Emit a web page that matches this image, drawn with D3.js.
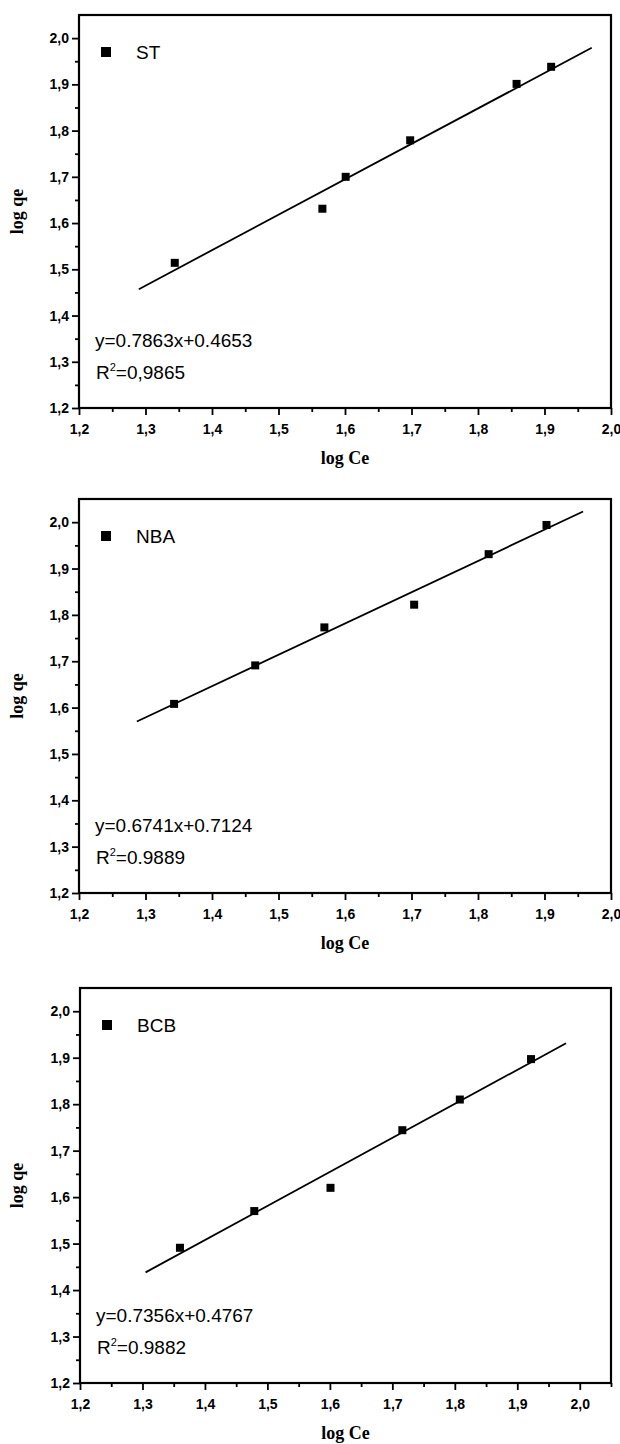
<!DOCTYPE html>
<html>
<head>
<meta charset="utf-8">
<script src="https://cdn.jsdelivr.net/npm/d3@7"></script>
<style>
    body { margin: 0; background: #fff; }
    svg text { fill: #000; }
    .tick text { font: bold 14px "Liberation Sans", Arial, sans-serif; }
    .legend, .eq { font: 19px "Liberation Sans", Arial, sans-serif; }
    .title { font: bold 18px "Liberation Serif", "Times New Roman", serif; }
</style>
</head>
<body>
<div id="chart"></div>
<script>
// series names
var names = ["ST", "NBA", "BCB"];

// ST
var xST = [1.344, 1.566, 1.601, 1.698, 1.858, 1.910];
var yST = [1.514, 1.631, 1.700, 1.779, 1.901, 1.938];
var fitXST = [1.29, 1.971];
var fitYST = [1.457, 1.979];

// NBA
var xNBA = [1.343, 1.465, 1.569, 1.704, 1.816, 1.903];
var yNBA = [1.608, 1.691, 1.773, 1.822, 1.931, 1.994];
var fitXNBA = [1.287, 1.958];
var fitYNBA = [1.570, 2.023];

// BCB
var xBCB = [1.360, 1.479, 1.601, 1.716, 1.808, 1.922];
var yBCB = [1.491, 1.570, 1.620, 1.744, 1.810, 1.897];
var fitXBCB = [1.305, 1.978];
var fitYBCB = [1.438, 1.931];

// equations printed on each panel
var equations = ["y=0.7863x+0.4653", "y=0.6741x+0.7124", "y=0.7356x+0.4767"];
var r2 = ["=0,9865", "=0.9889", "=0.9882"];

// ticks
var xTicks = [1.2, 1.3, 1.4, 1.5, 1.6, 1.7, 1.8, 1.9, 2.0];
var yTicks = [1.2, 1.3, 1.4, 1.5, 1.6, 1.7, 1.8, 1.9, 2.0];
var xMax = [2.0, 2.0, 2.05];

var width = 620,
    height = 1444;

// panel frames
var panels = [
    {left: 79, right: 611, top: 15, bottom: 408},
    {left: 79, right: 611, top: 499, bottom: 893},
    {left: 80, right: 611, top: 988, bottom: 1383}
];

var xs = [xST, xNBA, xBCB];
var ys = [yST, yNBA, yBCB];
var fitXs = [fitXST, fitXNBA, fitXBCB];
var fitYs = [fitYST, fitYNBA, fitYBCB];

var locale = d3.formatLocale({decimal: ",", thousands: ".", grouping: [3], currency: ["", ""]});
var fmt = locale.format(".1f");

var svg = d3.select("#chart")
    .append("svg")
    .attr("width", width)
    .attr("height", height);

panels.forEach(function (p, i) {
    var x = d3.scaleLinear().domain([1.2, xMax[i]]).range([p.left, p.right]);
    var y = d3.scaleLinear().domain([1.2, 2.05]).range([p.bottom, p.top]);

    var xMinor = d3.range(1.25, xMax[i] + 0.001, 0.1);
    var yMinor = d3.range(1.25, 2.0, 0.1);

    var g = svg.append("g");

    // minor ticks
    g.append("g")
        .attr("transform", "translate(0," + p.bottom + ")")
        .call(d3.axisBottom(x).tickValues(xMinor).tickSize(4).tickFormat(""));
    g.append("g")
        .attr("transform", "translate(" + p.left + ",0)")
        .call(d3.axisLeft(y).tickValues(yMinor).tickSize(4).tickFormat(""));

    // major ticks
    g.append("g")
        .attr("transform", "translate(0," + p.bottom + ")")
        .call(d3.axisBottom(x).tickValues(xTicks).tickSize(7).tickPadding(9).tickFormat(fmt));
    g.append("g")
        .attr("transform", "translate(" + p.left + ",0)")
        .call(d3.axisLeft(y).tickValues(yTicks).tickSize(7).tickPadding(3).tickFormat(fmt));

    g.selectAll(".domain").remove();
    g.selectAll(".tick line").attr("stroke", "#000").attr("stroke-width", 1.8);

    // frame
    g.append("rect")
        .attr("x", p.left)
        .attr("y", p.top)
        .attr("width", p.right - p.left)
        .attr("height", p.bottom - p.top)
        .attr("fill", "none")
        .attr("stroke", "#000")
        .attr("stroke-width", 2.2);

    // fit line
    g.append("line")
        .attr("x1", x(fitXs[i][0]))
        .attr("y1", y(fitYs[i][0]))
        .attr("x2", x(fitXs[i][1]))
        .attr("y2", y(fitYs[i][1]))
        .attr("stroke", "#000")
        .attr("stroke-width", 1.8);

    // points
    g.selectAll("rect.pt")
        .data(xs[i])
        .enter().append("rect")
        .attr("class", "pt")
        .attr("x", function (d) { return x(d) - 4; })
        .attr("y", function (d, j) { return y(ys[i][j]) - 4; })
        .attr("width", 8)
        .attr("height", 8)
        .attr("fill", "#000");

    // legend
    g.append("rect")
        .attr("x", p.left + 22)
        .attr("y", p.top + 32)
        .attr("width", 10)
        .attr("height", 10)
        .attr("fill", "#000");
    g.append("text")
        .attr("class", "legend")
        .attr("x", p.left + 57)
        .attr("y", p.top + 44)
        .text(names[i]);

    // equation
    g.append("text")
        .attr("class", "eq")
        .attr("x", p.left + 16)
        .attr("y", p.bottom - 61)
        .text(equations[i]);
    var r = g.append("text")
        .attr("class", "eq")
        .attr("x", p.left + 17)
        .attr("y", p.bottom - 29);
    r.append("tspan").text("R");
    r.append("tspan").attr("dy", -8).style("font-size", "11px").text("2");
    r.append("tspan").attr("dy", 8).text(r2[i]);

    // axis titles
    g.append("text")
        .attr("class", "title")
        .attr("x", (p.left + p.right) / 2)
        .attr("y", p.bottom + 56)
        .attr("text-anchor", "middle")
        .text("log Ce");
    g.append("text")
        .attr("class", "title")
        .attr("transform", "translate(23," + (p.top + p.bottom) / 2 + ") rotate(-90)")
        .attr("text-anchor", "middle")
        .text("log qe");
});
</script>
</body>
</html>
